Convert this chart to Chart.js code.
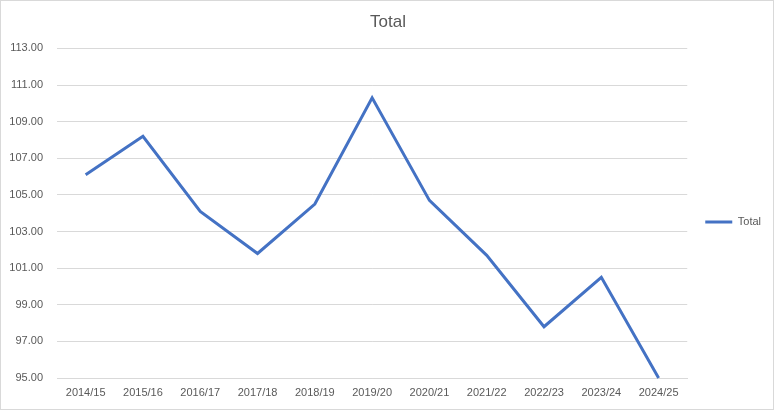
<!DOCTYPE html>
<html>
<head>
<meta charset="utf-8">
<script src="https://cdn.jsdelivr.net/npm/chart.js@4"></script>
<style>
  html, body { margin: 0; padding: 0; background: #fff; }
  #wrap { width: 774px; height: 410px; box-sizing: border-box; border: 1px solid #d9d9d9; }
  canvas { display: block; }
</style>
</head>
<body>
<div id="wrap"><canvas id="myChart" width="772" height="408"></canvas></div>
<script>
// values
let seasons = ['2014/15', '2015/16', '2016/17', '2017/18', '2018/19', '2019/20',
               '2020/21', '2021/22', '2022/23', '2023/24', '2024/25'];
let totalValues = [106.1, 108.2, 104.1, 101.8, 104.5, 110.3, 104.7, 101.7, 97.8, 100.5, 95.0];
let seriesName = 'Total';
let yMin = 95;
let yMax = 113;
let yStep = 2;

let textColor = '#595959';
let gridColor = '#d9d9d9';
let lineColor = '#4472C4';

new Chart('myChart', {
    type: 'line',
    data: {
        labels: seasons,
        datasets: [{
            label: seriesName,
            data: totalValues,
            borderColor: lineColor,
            backgroundColor: lineColor,
            borderWidth: 3,
            pointRadius: 0,
            tension: 0,
            clip: 2
        }]
    },
    options: {
        responsive: false,
        animation: false,
        layout: { padding: { left: 4, right: 2, top: 0, bottom: 0 } },
        plugins: {
            title: {
                display: true,
                text: 'Total',
                color: textColor,
                font: { family: 'Liberation Sans', size: 17, weight: 'normal' },
                padding: { top: 11, bottom: 16 }
            },
            legend: {
                position: 'right',
                // empty title only nudges the legend entry down a little
                title: {
                    display: true,
                    text: '',
                    font: { size: 10 },
                    padding: 11
                },
                labels: {
                    usePointStyle: true,
                    pointStyle: 'line',
                    pointStyleWidth: 27,
                    color: textColor,
                    font: { family: 'Liberation Sans', size: 11 },
                    padding: 18
                }
            },
            tooltip: { enabled: false }
        },
        scales: {
            x: {
                offset: true,
                grid: { display: false, drawTicks: false },
                border: { color: gridColor, width: 1 },
                ticks: {
                    color: textColor,
                    font: { family: 'Liberation Sans', size: 11 },
                    padding: 8,
                    maxRotation: 0
                },
                afterFit: function(scale) { scale.height = 31; }
            },
            y: {
                min: yMin,
                max: yMax,
                grid: { color: gridColor, drawTicks: false },
                border: { display: false },
                ticks: {
                    stepSize: yStep,
                    color: textColor,
                    font: { family: 'Liberation Sans', size: 11 },
                    padding: 14,
                    callback: function(value) { return value.toFixed(2); }
                },
                afterFit: function(scale) { scale.width = 52; }
            }
        }
    }
});
</script>
</body>
</html>
